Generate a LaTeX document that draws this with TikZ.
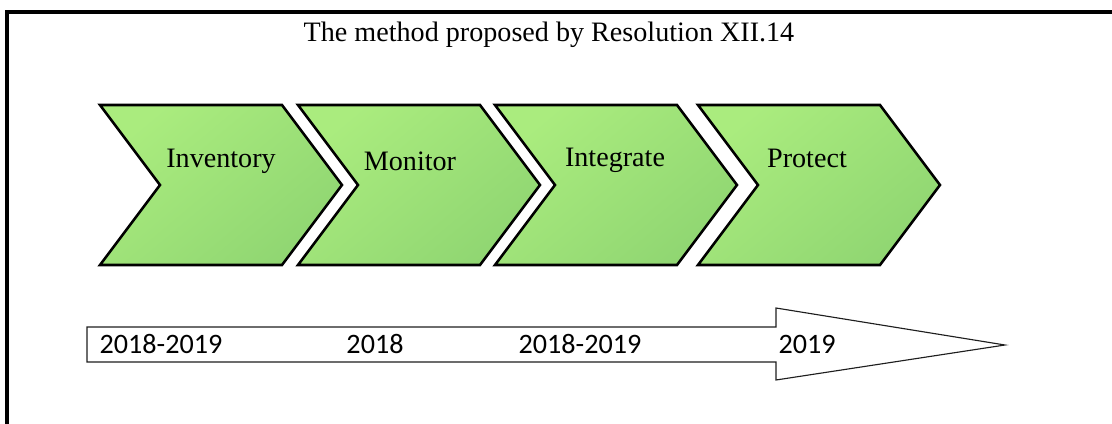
\documentclass[tikz,border=0pt]{standalone}
\usepackage{fontspec}
\setmainfont{Liberation Serif}
\newfontfamily\yearfont{Carlito}
\usepackage{tikz}
\definecolor{stagelight}{RGB}{170,236,126}
\definecolor{stagedark}{RGB}{144,214,114}
\definecolor{arrowline}{RGB}{30,30,30}

\begin{document}
\begin{tikzpicture}[x=0.025cm, y=0.025cm,
    stage/.style={draw=black, line width=1.8pt, line join=miter,
        top color=stagelight, bottom color=stagedark, shading angle=40},
    stagetext/.style={anchor=base, inner sep=0pt, font=\fontsize{20}{24}\selectfont},
    year/.style={anchor=base, inner sep=0pt, font=\yearfont\fontsize{20}{24}\selectfont},
    timeline/.style={draw=arrowline, line width=0.8pt, fill=white, line join=miter}]
    \useasboundingbox (0,0) rectangle (1112,423);

    % 1. Outer frame (only top and left edges are inside the picture)
    \clip (0,0) rectangle (1112,423);
    \draw[line width=2.5pt] (7,-20) |- (1140,411);

    % Title
    \node[stagetext] (title) at (549,381) {The method proposed by Resolution XII.14};

    % 2. The four stages as chevrons, each with its label
    \foreach \x/\name/\lbl/\tx/\bl in {100/inv/Inventory/221/256, 298/mon/Monitor/410/253,
                                      495/int/Integrate/615/257, 698/pro/Protect/807/256} {
        \draw[stage] (\x,318) -- ++(182,0) -- ++(60,-80) -- ++(-60,-80)
            -- ++(-182,0) -- ++(60,80) -- cycle;
        \node[stagetext] (\name) at (\tx,\bl) {\lbl};
    }

    % 3. Time line arrow with the years
    \draw[timeline] (87,96) -- (776,96) -- (776,115) -- (1005,78)
        -- (776,43) -- (776,61) -- (87,61) -- cycle;
    \node[year] (yinv) at (161,70) {2018-2019};
    \node[year] (ymon) at (375,70) {2018};
    \node[year] (yint) at (580,70) {2018-2019};
    \node[year] (ypro) at (807,70) {2019};

\end{tikzpicture}
\end{document}
